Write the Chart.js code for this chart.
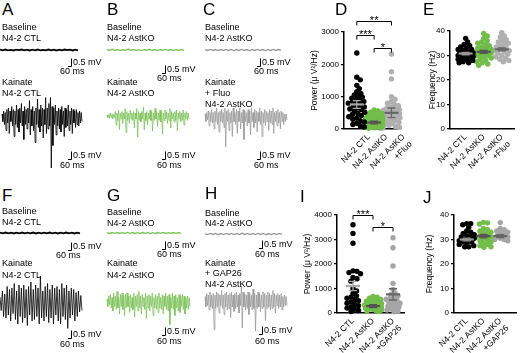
<!DOCTYPE html>
<html><head><meta charset="utf-8">
<script src="https://cdn.jsdelivr.net/npm/chart.js@4"></script>
<style>
html,body{margin:0;padding:0;background:#fff;}
#fig{position:relative;width:520px;height:353px;overflow:hidden;font-family:'Liberation Sans',Arial,sans-serif;color:#000;}
#fig canvas{position:absolute;}
.t{position:absolute;white-space:nowrap;line-height:1;font-size:9px;}
.p{position:absolute;white-space:nowrap;line-height:1;font-size:17px;}
</style></head><body><div id="fig"></div>
<script>
// ---------- DATA ----------
// Field-potential traces (mV), baseline and kainate
const baseA = [0.02,-0.02,0.03,-0.02,0.01,-0.03,0.02,-0.01,0.03,-0.02,0.02,-0.03,0.02,-0.02,0.03,-0.02,0.01,-0.02,0.03,-0.02,0.02,-0.03,0.02,-0.02,0.03,-0.01,0.02,-0.03,0.02,-0.02];
const baseB = [0.02,-0.02,0.05,-0.02,0.02,-0.03,0.02,-0.02,0.06,-0.02,0.02,-0.03,0.02,-0.04,0.02,-0.02,0.05,-0.02,0.02,-0.03,0.02,-0.02,0.04,-0.02,0.02,-0.03,0.02,-0.02,0.03,-0.02];
const baseC = [0.03,-0.03,0.04,-0.03,0.03,-0.04,0.03,-0.03,0.04,-0.03,0.03,-0.04,0.03,-0.03,0.04,-0.03,0.03,-0.04,0.03,-0.03,0.04,-0.03,0.03,-0.04,0.03,-0.03,0.04,-0.03,0.03,-0.03];
const baseF = [0.02,-0.02,0.03,-0.02,0.02,-0.03,0.02,-0.02,0.03,-0.02,0.02,-0.02,0.03,-0.03,0.02,-0.02,0.02,-0.02,0.03,-0.02,0.02,-0.03,0.02,-0.02,0.03,-0.02,0.02,-0.03,0.02,-0.02];
const baseG = [0.02,-0.03,0.03,-0.02,0.03,-0.03,0.02,-0.03,0.04,-0.02,0.03,-0.03,0.02,-0.03,0.03,-0.02,0.03,-0.04,0.02,-0.03,0.03,-0.02,0.03,-0.03,0.02,-0.03,0.03,-0.02,0.03,-0.02];
const baseH = [0.03,-0.04,0.04,-0.03,0.04,-0.05,0.03,-0.04,0.04,-0.03,0.04,-0.04,0.03,-0.04,0.05,-0.03,0.04,-0.04,0.03,-0.04,0.04,-0.03,0.04,-0.05,0.03,-0.04,0.04,-0.03,0.04,-0.03];

const kainA = [0.2,-0.3,0.4,-0.5,0.3,-0.9,0.5,-0.4,0.6,-1.1,
0.4,-0.3,0.7,-0.6,0.5,-1.3,0.4,-0.5,0.8,-0.7,
0.5,-1.0,0.6,-0.4,0.9,-0.6,0.4,-1.5,0.7,-0.5,
0.5,-0.8,0.6,-0.4,1.1,-1.2,0.5,-0.6,0.7,-0.9,
0.4,-1.7,0.6,-0.5,1.2,-0.7,0.5,-1.0,0.8,-0.6,
0.6,-1.4,0.5,-0.5,1.3,-1.1,0.6,-0.8,0.9,-0.6,
1.3,-3.4,0.7,-1.9,0.6,-0.5,0.8,-1.2,0.4,-0.6,
0.6,-0.8,0.5,-1.0,0.7,-0.5,0.4,-1.3,0.6,-0.7,
0.5,-0.6,0.8,-0.9,0.4,-0.5,0.6,-1.1,0.5,-0.4,
0.4,-0.7,0.5,-0.5,0.3,-0.6,0.4,-0.4,0.3,-0.3];
const kainB = [0.05,-0.1,0.1,-0.15,0.2,-0.1,0.15,-0.2,0.1,-0.1,
0.3,-0.6,0.2,-0.3,0.4,-0.9,0.2,-0.2,0.3,-0.5,
0.2,-0.2,0.5,-1.1,0.3,-0.3,0.2,-0.5,0.4,-0.2,
0.2,-0.3,0.3,-0.8,0.2,-0.2,0.5,-1.4,0.3,-0.3,
0.2,-0.4,0.3,-0.2,0.6,-0.9,0.2,-0.3,0.3,-0.6,
0.2,-0.2,0.4,-0.3,0.3,-1.0,0.2,-0.3,0.5,-0.2,
0.3,-0.7,0.2,-0.3,0.4,-0.4,0.3,-1.2,0.2,-0.3,
0.4,-0.2,0.3,-0.5,0.2,-0.3,0.5,-0.8,0.3,-0.2,
0.2,-0.4,0.3,-0.3,0.4,-1.0,0.2,-0.2,0.3,-0.4,
0.2,-0.3,0.4,-0.6,0.2,-0.2,0.3,-0.3,0.2,-0.2];
const kainC = [0.2,-0.3,0.3,-0.2,0.4,-0.6,0.3,-0.3,0.5,-0.4,
0.3,-0.8,0.4,-0.3,0.6,-0.5,0.3,-1.0,0.4,-0.3,
0.5,-0.4,0.3,-0.7,0.6,-2.0,0.4,-0.3,0.5,-0.9,
0.3,-0.4,0.4,-1.3,0.6,-0.3,0.3,-0.5,0.5,-1.1,
0.4,-0.3,0.6,-0.8,0.3,-0.4,0.5,-1.5,0.4,-0.3,
0.3,-0.6,0.5,-0.4,0.4,-1.2,0.6,-0.3,0.3,-0.7,
0.5,-0.4,0.4,-1.0,0.3,-0.3,0.6,-0.5,0.4,-1.3,
0.3,-0.4,0.5,-0.6,0.4,-0.3,0.3,-0.9,0.5,-0.4,
0.4,-0.5,0.6,-1.1,0.3,-0.3,0.4,-0.6,0.5,-0.4,
0.3,-0.8,0.4,-0.3,0.3,-0.5,0.2,-0.3,0.2,-0.2];
const kainF = [0.4,-0.5,0.8,-0.9,0.6,-1.0,1.1,-0.8,0.9,-1.2,
1.0,-0.7,1.3,-1.1,0.8,-1.4,1.2,-0.9,1.0,-1.3,
1.2,-1.0,0.9,-1.5,1.1,-0.8,1.4,-1.2,0.9,-1.1,
1.2,-0.9,1.0,-1.4,1.8,-1.0,0.8,-1.2,1.1,-0.9,
1.3,-1.3,0.9,-1.0,1.2,-1.4,1.0,-0.8,1.1,-1.2,
0.9,-1.4,1.3,-0.9,1.0,-1.1,1.2,-1.7,0.8,-1.0,
1.0,-0.8,0.9,-1.2,0.7,-0.9,0.8,-0.6,0.5,-0.5];
const kainG = [0.2,-0.3,0.4,-0.2,0.5,-0.4,0.3,-0.6,0.6,-0.3,
0.4,-0.5,0.7,-0.4,0.3,-0.8,0.5,-0.3,0.6,-0.5,
0.4,-0.9,0.5,-0.4,0.6,-0.3,0.4,-0.7,0.5,-0.4,
0.3,-0.5,0.6,-1.0,0.4,-0.3,0.5,-0.6,0.7,-0.4,
0.4,-0.8,0.5,-0.3,0.3,-0.5,0.6,-1.1,0.4,-0.4,
0.5,-0.6,0.4,-0.3,0.6,-0.9,0.3,-0.4,0.5,-0.5,
0.4,-0.7,0.6,-0.4,0.3,-0.5,0.5,-0.8,0.4,-0.3,
0.6,-0.5,0.4,-0.6,0.5,-1.5,0.3,-0.4,0.6,-0.5,
0.4,-0.9,0.5,-0.4,0.3,-0.6,0.5,-0.7,0.4,-0.3,
0.5,-0.5,0.4,-0.8,0.3,-0.4,0.4,-0.5,0.3,-0.3];
const kainH = [0.3,-0.4,0.5,-0.3,0.4,-0.6,0.6,-0.4,0.4,-0.5,
0.5,-1.9,0.4,-0.5,0.6,-0.4,0.5,-0.8,0.4,-0.3,
0.7,-0.5,0.4,-0.9,0.5,-0.4,0.6,-0.6,0.4,-0.5,
0.5,-1.1,0.6,-0.4,0.4,-0.7,0.5,-0.5,0.6,-0.4,
0.4,-0.8,0.5,-0.3,1.0,-1.8,0.6,-0.4,0.5,-0.6,
0.4,-0.5,0.6,-0.9,0.5,-0.4,0.4,-0.6,0.8,-0.5,
0.5,-2.0,0.4,-0.5,0.6,-0.4,0.5,-0.7,0.4,-0.5,
0.6,-0.4,0.5,-1.3,0.4,-0.5,0.6,-0.4,0.5,-0.6,
0.4,-0.5,0.7,-0.4,0.5,-0.8,0.4,-0.3,0.5,-0.5,
0.4,-0.4,0.5,-0.6,0.3,-0.4,0.4,-0.3,0.3,-0.3];

// Categories
const catD = [['N4-2 CTL'],['N4-2 AstKO'],['N4-2 AstKO','+Fluo']];
const catI = [['N4-2 CTL'],['N4-2 AstKO'],['N4-2 AstKO','+GAP26']];
// Tick labels
const ticksD = [0,1000,2000,3000];
const ticksI = [0,1000,2000,3000,4000];
const ticksHz = [0,10,20,30,40];

// Panel D: power (µV²/Hz)
const powD_CTL  = [2350,1600,1520,1350,1250,1150,1100,1050,1000,980,950,900,880,850,820,800,780,750,700,680,650,620,600,560,520,480,450,420,380,340,300,260,220,180,140,100,60];
const powD_KO   = [590,560,520,480,460,430,410,390,370,350,330,310,300,290,270,260,250,240,230,220,210,200,190,180,170,160,150,140,130,120,110,100,90,80,70,60,50,40,30,20];
const powD_Fluo = [2320,1770,1550,1000,920,850,800,760,720,680,650,620,600,580,550,520,500,470,450,420,400,380,350,320,290,260,230,200,170,140,110,80,50,30];
const meanD = [760,200,500];
const semD  = [120,40,150];
// Panel E: frequency (Hz)
const frqE_CTL  = [37,35.5,34.5,34,33.5,33,32.5,32.5,32,31.5,31.5,31,31,30.5,30.5,30,30,29.5,29.5,29,29,28.5,28.5,28,27.5,27,27];
const frqE_KO   = [39,38,37,36,35.5,35,34.5,34,33.5,33,33,32.5,32,32,31.5,31.5,31,31,30.5,30,30,29.5,29,28.5,28,27.5,27,26.5,26];
const frqE_Fluo = [39.3,38,37.5,36.5,36,35.5,35,34.5,34,33.5,33,33,32.5,32,32,31.5,31,30.5,30,29.5,29,28.5,28,27.5];
const meanE = [30.8,31.5,32.5];
const semE  = [0.5,0.6,0.6];
// Panel I: power (µV²/Hz)
const powI_CTL = [3600,3250,2850,1720,1700,1650,1600,1450,1400,1300,1000,900,800,700,650,600,550,500,450,400,350,300,250,200,150,100,60];
const powI_KO  = [680,640,600,560,520,480,450,420,390,360,330,300,280,260,240,220,200,180,160,140,120,100,80,60];
const powI_GAP = [3070,2665,1917,1210,965,820,760,700,640,600,560,520,480,440,400,360,320,280,240,200,160,120,80,50];
const meanI = [1100,285,760];
const semI  = [190,60,230];
// Panel J: frequency (Hz)
const frqJ_CTL = [36.5,36.5,36,35,33.5,33,32.5,32,31.5,31,31,30.5,30,30,29.5,29,29,28.5,28,27.5,27,27];
const frqJ_KO  = [37,36.8,36.3,34.5,34,33.5,33,32.5,32,31.5,31,31,30.5,30,29.5,29,28.5,28,27.5,27,26.8];
const frqJ_GAP = [36.9,34.5,34,33.5,33,32.5,32,31.5,31,30.5,30,30,29.5];
const meanJ = [30.0,31.4,31.4];
const semJ  = [0.6,0.7,0.6];
// Significance: [group a, group b, level, label]
const sigD = [[0,1,2900,'***'],[0,2,3340,'**'],[1,2,2505,'*']];
const sigI = [[0,1,4000,'***'],[1,2,3510,'*']];

// ---------- DRAWING ----------
Chart.defaults.font.family = "'Liberation Sans', Arial, sans-serif";
Chart.defaults.color = '#000';
const fig = document.getElementById('fig');
const GREEN_T = '#7dc35b', GREEN_D = '#72bd4a', GRAY_T = '#9b9b9b';

function mkCanvas(l,t,w,h){
  const c=document.createElement('canvas');
  c.width=w; c.height=h;
  c.style.left=l+'px'; c.style.top=t+'px'; c.style.width=w+'px'; c.style.height=h+'px';
  fig.appendChild(c); return c;
}

const PX_MS = 0.05, PX_MV = 15;
function traceChart(vals, color, lw, g){
  const pad = 3;
  const maxv = Math.max(...vals), minv = Math.min(...vals);
  const left = Math.floor(g.x0 - pad), right = Math.ceil(Math.max(g.x1, g.barX) + pad);
  const top = Math.floor(Math.min(g.y - maxv*PX_MV, g.barY - 8) - pad);
  const bottom = Math.ceil(Math.max(g.y - minv*PX_MV, g.barY) + pad);
  const w = right-left, h = bottom-top;
  const xmin = -(g.x0-left)/PX_MS, xmax = xmin + w/PX_MS;
  const ymax = (g.y-top)/PX_MV, ymin = ymax - h/PX_MV;
  const dur = (g.x1-g.x0)/PX_MS;
  const bar = {x:(g.barX-g.x0)/PX_MS, y:-(g.barY-g.y)/PX_MV};
  const c = mkCanvas(left, top, w, h);
  new Chart(c, {
    type:'line',
    data:{datasets:[{data: vals.map((v,i)=>({x:i*dur/(vals.length-1), y:v})), borderColor:color, borderWidth:lw, pointRadius:0, tension:0, fill:false}]},
    options:{responsive:false, animation:false, events:[],
      layout:{padding:0},
      plugins:{legend:{display:false}, tooltip:{enabled:false}},
      scales:{x:{type:'linear', display:false, min:xmin, max:xmax}, y:{type:'linear', display:false, min:ymin, max:ymax}}},
    plugins:[{id:'sbar', afterDraw(ch){
      const xs=ch.scales.x, ys=ch.scales.y, ctx=ch.ctx;
      const bx=Math.round(xs.getPixelForValue(bar.x))+0.5, by=Math.round(ys.getPixelForValue(bar.y))+0.5;
      const bt=ys.getPixelForValue(bar.y+0.5), bl=xs.getPixelForValue(bar.x-60);
      ctx.save(); ctx.strokeStyle='#000'; ctx.lineWidth=1;
      ctx.beginPath(); ctx.moveTo(bl,by); ctx.lineTo(bx,by); ctx.lineTo(bx,bt); ctx.stroke(); ctx.restore();
    }}]
  });
}

traceChart(baseA,'#000',1.8,{x0:0,x1:78,y:50,barX:71,barY:66});
traceChart(kainA,'#000',0.8,{x0:2,x1:82,y:117,barX:71,barY:159});
traceChart(baseB,GREEN_T,1.4,{x0:107,x1:184,y:50,barX:165,barY:73});
traceChart(kainB,GREEN_T,0.8,{x0:107,x1:189,y:116,barX:165,barY:159});
traceChart(baseC,GRAY_T,1.4,{x0:205,x1:281,y:50,barX:260,barY:66});
traceChart(kainC,GRAY_T,0.8,{x0:205,x1:287,y:117,barX:260,barY:159});
traceChart(baseF,'#000',1.8,{x0:0,x1:80,y:233,barX:71,barY:250});
traceChart(kainF,'#000',0.8,{x0:0,x1:82,y:303,barX:71,barY:338});
traceChart(baseG,GREEN_T,1.4,{x0:107,x1:181,y:233,barX:165,barY:249});
traceChart(kainG,GREEN_T,0.8,{x0:107,x1:190,y:302,barX:165,barY:335});
traceChart(baseH,GRAY_T,1.4,{x0:205,x1:282,y:234,barX:262,barY:248});
traceChart(kainH,GRAY_T,0.8,{x0:205,x1:287,y:301,barX:262,barY:334});

// beeswarm layout computed from the values through the chart's own scales
function swarm(chart, groups, r, maxOff){
  const xs=chart.scales.x, ys=chart.scales.y;
  const ppu = xs.getPixelForValue(1)-xs.getPixelForValue(0);
  const minD = r*2*0.74;
  groups.forEach((vals,gi)=>{
    const placed=[];
    chart.data.datasets[gi].data = vals.map(v=>{
      const py=ys.getPixelForValue(v);
      let off=null, bestOff=0, bestD=-1;
      for(let k=0;k<200;k++){
        const cand=(k%2?1:-1)*Math.ceil(k/2)*0.5;
        if(Math.abs(cand)>maxOff) break;
        let dmin=Infinity;
        placed.forEach(p=>{const d=Math.hypot(p.x-cand,p.y-py); if(d<dmin) dmin=d;});
        if(dmin>=minD){off=cand;break;}
        if(dmin>bestD){bestD=dmin;bestOff=cand;}
      }
      if(off===null) off=bestOff;
      placed.push({x:off,y:py});
      return {x:gi+off/ppu, y:v};
    });
  });
  chart.update('none');
}

function scatterPanel(cfg){
  const c = mkCanvas(cfg.left,cfg.top,cfg.w,cfg.h);
  const r = 2.7;
  const chart = new Chart(c,{
    type:'scatter',
    data:{datasets:cfg.groups.map((g,i)=>({data:g.map(v=>({x:i,y:v})), backgroundColor:cfg.colors[i], pointRadius:r, pointBorderWidth:0, clip:false}))},
    options:{responsive:false, animation:false, events:[],
      layout:{padding:{top:cfg.padTop,right:cfg.padRight,left:0,bottom:0}},
      plugins:{legend:{display:false}, tooltip:{enabled:false}},
      scales:{
        x:{type:'linear', min:cfg.xmin, max:cfg.xmax,
          afterBuildTicks:s=>{s.ticks=cfg.cats.map((_,i)=>({value:i+cfg.labelShift}));},
          afterFit:s=>{s.height=cfg.xH;},
          grid:{display:false, drawTicks:false, tickLength:0},
          border:{display:true, color:'#000', width:1.5},
          ticks:{autoSkip:false, minRotation:45, maxRotation:45, padding:3, color:'#000', font:{size:8.5}, callback:(v,i)=>cfg.cats[i]}},
        y:{type:'linear', min:0, max:cfg.ymax,
          afterBuildTicks:s=>{s.ticks=cfg.yTicks.map(v=>({value:v}));},
          afterFit:s=>{s.width=cfg.yW;},
          grid:{drawOnChartArea:false, color:'#000', lineWidth:1.2, tickLength:3},
          border:{display:true, color:'#000', width:1.5},
          ticks:{color:'#000', font:{size:8}, padding:2, callback:v=>String(v)},
          title:{display:true, text:cfg.title, color:'#000', font:{size:8.5}, padding:{top:4,bottom:0}}}
      }},
    plugins:[{id:'meansem', afterDatasetsDraw(ch){
      const xs=ch.scales.x, ys=ch.scales.y, ctx=ch.ctx;
      ctx.save();
      cfg.means.forEach((m,i)=>{
        const x=xs.getPixelForValue(i), y=ys.getPixelForValue(m);
        const yh=ys.getPixelForValue(m+cfg.sems[i]), yl=ys.getPixelForValue(m-cfg.sems[i]);
        ctx.strokeStyle=cfg.meanColors[i];
        ctx.lineWidth=1.3;
        ctx.beginPath(); ctx.moveTo(x,yh); ctx.lineTo(x,yl);
        ctx.moveTo(x-4,yh); ctx.lineTo(x+4,yh); ctx.moveTo(x-4,yl); ctx.lineTo(x+4,yl); ctx.stroke();
        ctx.lineWidth=2.2;
        ctx.beginPath(); ctx.moveTo(x-7,y); ctx.lineTo(x+7,y); ctx.stroke();
      });
      ctx.restore();
    }, afterDraw(ch){
      const xs=ch.scales.x, ys=ch.scales.y, ctx=ch.ctx;
      ctx.save(); ctx.strokeStyle='#000'; ctx.fillStyle='#000'; ctx.lineWidth=1;
      ctx.font="11px 'Liberation Sans', Arial, sans-serif"; ctx.textAlign='center'; ctx.textBaseline='alphabetic';
      cfg.sig.forEach(([a,b,v,lab])=>{
        const x1=xs.getPixelForValue(a), x2=xs.getPixelForValue(b), y=Math.round(ys.getPixelForValue(v))+0.5;
        ctx.beginPath(); ctx.moveTo(x1,y+4); ctx.lineTo(x1,y); ctx.lineTo(x2,y); ctx.lineTo(x2,y+4); ctx.stroke();
        ctx.fillText(lab,(x1+x2)/2,y+2.5);
      });
      ctx.restore();
    }}]
  });
  swarm(chart,cfg.groups,r,cfg.maxOff);
}

scatterPanel({left:306,top:0,w:114,h:176,yW:38,xH:47,padTop:32,padRight:14,xmin:-0.74,xmax:2.47,labelShift:0.7,maxOff:8.5,
  ymax:3000,yTicks:ticksD,cats:catD,groups:[powD_CTL,powD_KO,powD_Fluo],colors:['#000',GREEN_D,'#b0b0b0'],
  means:meanD,sems:semD,meanColors:['#a8a8a8','#555','#666'],sig:sigD,title:'Power (\u03bc V\u00b2/Hz)'});
scatterPanel({left:424,top:0,w:96,h:176,yW:26,xH:47,padTop:31,padRight:4,xmin:-0.865,xmax:2.70,labelShift:0,maxOff:7.5,
  ymax:40,yTicks:ticksHz,cats:catD,groups:[frqE_CTL,frqE_KO,frqE_Fluo],colors:['#000',GREEN_D,'#b0b0b0'],
  means:meanE,sems:semE,meanColors:['#9a9a9a','#555','#666'],sig:[],title:'Frequency (Hz)'});
scatterPanel({left:299,top:176,w:121,h:177,yW:38,xH:40,padTop:39,padRight:16,xmin:-0.8,xmax:2.55,labelShift:0,maxOff:8.5,
  ymax:4000,yTicks:ticksI,cats:catI,groups:[powI_CTL,powI_KO,powI_GAP],colors:['#000',GREEN_D,'#a5a5a5'],
  means:meanI,sems:semI,meanColors:['#a8a8a8','#555','#666'],sig:sigI,title:'Power (\u03bc V\u00b2/Hz)'});
scatterPanel({left:421,top:176,w:99,h:177,yW:33,xH:40,padTop:39,padRight:3,xmin:-0.76,xmax:2.94,labelShift:0,maxOff:7.5,
  ymax:40,yTicks:ticksHz,cats:catI,groups:[frqJ_CTL,frqJ_KO,frqJ_GAP],colors:['#000',GREEN_D,'#a5a5a5'],
  means:meanJ,sems:semJ,meanColors:['#9a9a9a','#555','#666'],sig:[],title:'Frequency (Hz)'});

// ---------- TEXT ----------
const letters = [['A',2,1],['B',107,1],['C',203,1],['D',335,1],['E',423,1],['F',2,187],['G',107,187],['H',205,185],['I',300,188],['J',423,189]];
letters.forEach(([s,x,y])=>{const d=document.createElement('div');d.className='p';d.textContent=s;d.style.left=x+'px';d.style.top=y+'px';fig.appendChild(d);});
const labels = [
 ['Baseline',2,27],['N4-2 CTL',2,38],['Kainate',2,82],['N4-2 CTL',2,93],
 ['0.5 mV',73,62],['60 ms',60,71],['0.5 mV',73,155],['60 ms',60,165],
 ['Baseline',107,27],['N4-2 AstKO',107,38],['Kainate',107,82],['N4-2 AstKO',107,93],
 ['0.5 mV',167,69],['60 ms',157,78],['0.5 mV',167,155],['60 ms',157,165],
 ['Baseline',205,27],['N4-2 AstKO',205,38],['Kainate',205,82],['+ Fluo',205,93],['N4-2 AstKO',205,104],
 ['0.5 mV',262,62],['60 ms',254,71],['0.5 mV',262,155],['60 ms',254,165],
 ['Baseline',2,211],['N4-2 CTL',2,222],['Kainate',2,263],['N4-2 CTL',2,275],
 ['0.5 mV',73,246],['60 ms',56,255],['0.5 mV',73,334],['60 ms',60,344],
 ['Baseline',107,212],['N4-2 AstKO',107,223],['Kainate',107,263],['N4-2 AstKO',107,275],
 ['0.5 mV',167,245],['60 ms',157,254],['0.5 mV',167,331],['60 ms',157,341],
 ['Baseline',205,213],['N4-2 AstKO',205,223],['Kainate',205,263],['+ GAP26',205,273],['N4-2 AstKO',205,284],
 ['0.5 mV',264,244],['60 ms',255,254],['0.5 mV',264,330],['60 ms',255,341]
];
labels.forEach(([s,x,cy])=>{const d=document.createElement('div');d.className='t';d.textContent=s;d.style.left=x+'px';d.style.top=(cy-4.5)+'px';fig.appendChild(d);});
</script>
</body></html>
